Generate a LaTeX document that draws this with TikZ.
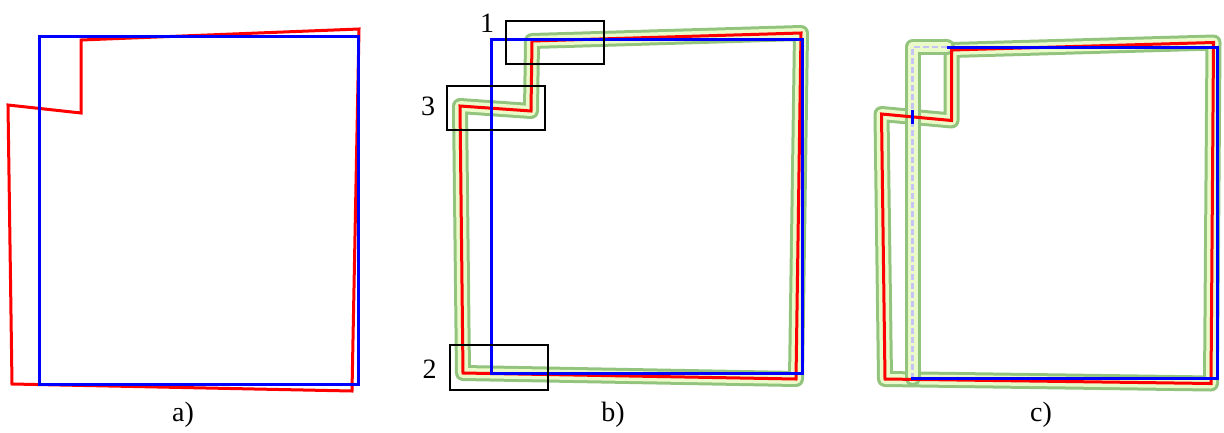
\documentclass[tikz,border=0pt]{standalone}
\usepackage{fontspec}
\setmainfont{Liberation Serif}
\definecolor{bandedge}{RGB}{146,196,126}
\definecolor{bandfill}{RGB}{234,250,200}
\definecolor{lav}{RGB}{196,196,245}
\begin{document}
\begin{tikzpicture}[x=1pt,y=-1pt,
  redl/.style={red,line width=3pt,line join=miter},
  bluel/.style={blue,line width=3pt,line join=miter},
  lavl/.style={lav,line width=2.6pt,dash pattern=on 5.5pt off 3.5pt},
  bandout/.style={bandedge,line width=16pt,line join=round,line cap=round},
  bandin/.style={bandfill,line width=10pt,line join=round,line cap=round},
  zoombox/.style={draw=black,line width=1.4pt},
  lab/.style={font=\fontsize{28}{32}\selectfont,inner sep=0pt}]
\useasboundingbox (0,0) rectangle (1224,432);

% ---------- panel a ----------
\draw[redl] (81,40) -- (359,29) -- (352,391) -- (12,384) -- (8,105) -- (81,113) -- cycle;
\draw[bluel] (39,36) rectangle (358,384);
\node[lab] (la) at (183,415) {a)};

% ---------- panel b ----------
\draw[bandout] (532,41) -- (801,33) -- (796,379) -- (463,373) -- (460,106) -- (531,111) -- cycle;
\draw[bandin]  (532,41) -- (801,33) -- (796,379) -- (463,373) -- (460,106) -- (531,111) -- cycle;
\draw[redl] (532,41) -- (801,33) -- (796,379) -- (463,373) -- (460,106) -- (531,111) -- cycle;
\draw[bluel] (491,39) rectangle (802,373);
\draw[zoombox] (506,21) rectangle (604,64);
\draw[zoombox] (447,86) rectangle (545,130);
\draw[zoombox] (450,345) rectangle (548,390);
\node[lab] (n1) at (487,23) {1};
\node[lab] (n3) at (428,106) {3};
\node[lab] (n2) at (429.5,369) {2};
\node[lab] (lb) at (613,415) {b)};

% ---------- panel c ----------
\draw[bandout] (951.5,50) -- (1213.5,42.5) -- (1211,383.5) -- (885,379) -- (881.5,114) -- (951.5,120.5) -- cycle;
\draw[bandin]  (951.5,50) -- (1213.5,42.5) -- (1211,383.5) -- (885,379) -- (881.5,114) -- (951.5,120.5) -- cycle;
\draw[bandout] (947,47) -- (912.5,47) -- (912.5,378);
\draw[bandin]  (947,47) -- (912.5,47) -- (912.5,378);
\draw[lavl] (912.5,378.5) -- (912.5,47) -- (947,47);
\draw[redl] (951.5,50) -- (1213.5,42.5) -- (1211,383.5) -- (885,379) -- (881.5,114) -- (951.5,120.5) -- cycle;
\draw[bluel] (947,47) -- (1217.5,47) -- (1217.5,378.5) -- (911,378.5);
\draw[bluel] (912.5,110) -- (912.5,124);
\node[lab] (lc) at (1041,415) {c)};
\end{tikzpicture}
\end{document}
